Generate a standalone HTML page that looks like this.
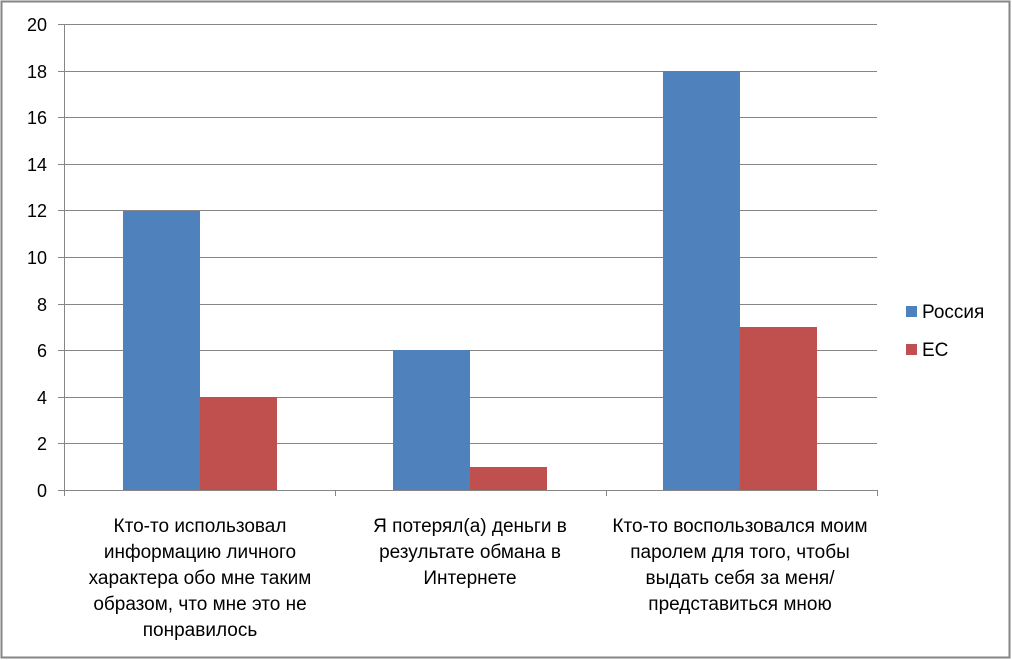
<!DOCTYPE html>
<html><head><meta charset="utf-8"><style>
html,body{margin:0;padding:0;background:#fff;}
svg{display:block;}
text{font-family:"Liberation Sans","DejaVu Sans",sans-serif;fill:#000;}
</style></head><body>
<svg width="1012" height="660" xmlns="http://www.w3.org/2000/svg">
<rect x="1.5" y="1.5" width="1008" height="656" fill="#fff" stroke="#868686" stroke-width="2"/>
<g stroke="#868686" stroke-width="1">
<line x1="64" y1="24.5" x2="877" y2="24.5"/>
<line x1="64" y1="71.5" x2="877" y2="71.5"/>
<line x1="64" y1="117.5" x2="877" y2="117.5"/>
<line x1="64" y1="164.5" x2="877" y2="164.5"/>
<line x1="64" y1="210.5" x2="877" y2="210.5"/>
<line x1="64" y1="257.5" x2="877" y2="257.5"/>
<line x1="64" y1="304.5" x2="877" y2="304.5"/>
<line x1="64" y1="350.5" x2="877" y2="350.5"/>
<line x1="64" y1="397.5" x2="877" y2="397.5"/>
<line x1="64" y1="443.5" x2="877" y2="443.5"/>
</g>
<rect x="123" y="211" width="77" height="279" fill="#4f81bd"/>
<rect x="200" y="397" width="77" height="93" fill="#c0504d"/>
<rect x="393" y="350" width="77" height="140" fill="#4f81bd"/>
<rect x="470" y="467" width="77" height="23" fill="#c0504d"/>
<rect x="663" y="71" width="77" height="419" fill="#4f81bd"/>
<rect x="740" y="327" width="77" height="163" fill="#c0504d"/>
<g stroke="#868686" stroke-width="1">
<line x1="64.5" y1="24" x2="64.5" y2="490"/>
<line x1="64" y1="490.5" x2="877" y2="490.5"/>
<line x1="58" y1="24.5" x2="64" y2="24.5"/><line x1="58" y1="71.5" x2="64" y2="71.5"/>
<line x1="58" y1="117.5" x2="64" y2="117.5"/><line x1="58" y1="164.5" x2="64" y2="164.5"/>
<line x1="58" y1="210.5" x2="64" y2="210.5"/><line x1="58" y1="257.5" x2="64" y2="257.5"/>
<line x1="58" y1="304.5" x2="64" y2="304.5"/><line x1="58" y1="350.5" x2="64" y2="350.5"/>
<line x1="58" y1="397.5" x2="64" y2="397.5"/><line x1="58" y1="443.5" x2="64" y2="443.5"/>
<line x1="58" y1="490.5" x2="64" y2="490.5"/>
<line x1="64.5" y1="490" x2="64.5" y2="496"/><line x1="335.5" y1="490" x2="335.5" y2="496"/>
<line x1="606.5" y1="490" x2="606.5" y2="496"/><line x1="877.5" y1="490" x2="877.5" y2="496"/>
</g>
<g font-size="18" text-anchor="end">
<text x="47" y="31">20</text><text x="47" y="78">18</text><text x="47" y="124">16</text>
<text x="47" y="171">14</text><text x="47" y="217">12</text><text x="47" y="264">10</text>
<text x="47" y="311">8</text><text x="47" y="357">6</text><text x="47" y="404">4</text>
<text x="47" y="450">2</text><text x="47" y="497">0</text>
</g>
<g font-size="19" text-anchor="middle">
<text x="200" y="532">Кто-то использовал</text>
<text x="200" y="558">информацию личного</text>
<text x="200" y="584">характера обо мне таким</text>
<text x="200" y="610">образом, что мне это не</text>
<text x="200" y="636">понравилось</text>
<text x="470" y="532">Я потерял(а) деньги в</text>
<text x="470" y="558">результате обмана в</text>
<text x="470" y="584">Интернете</text>
<text x="740" y="532">Кто-то воспользовался моим</text>
<text x="740" y="558">паролем для того, чтобы</text>
<text x="740" y="584">выдать себя за меня/</text>
<text x="740" y="610">представиться мною</text>
</g>
<rect x="906" y="306" width="11" height="11" fill="#4f81bd"/>
<text x="922" y="318" font-size="19">Россия</text>
<rect x="906" y="344" width="11" height="11" fill="#c0504d"/>
<text x="922" y="356" font-size="19">ЕС</text>
</svg>
</body></html>
